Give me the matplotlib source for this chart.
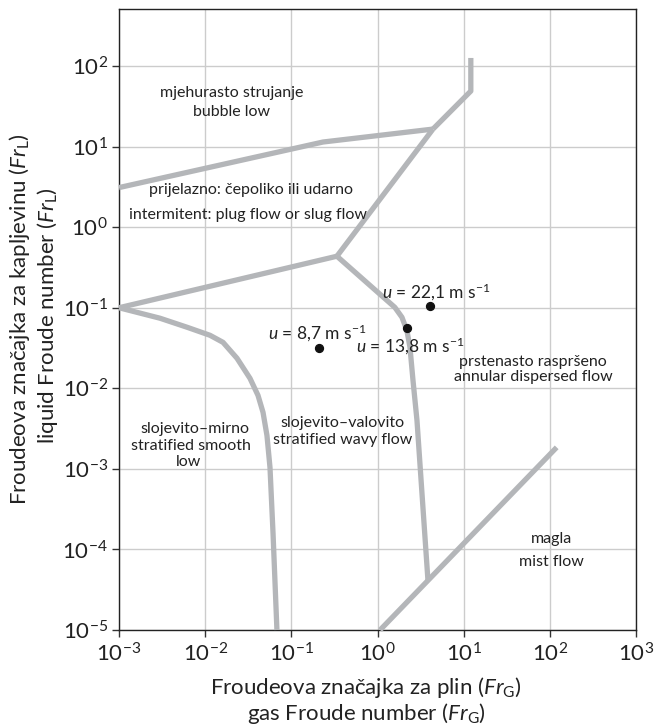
import matplotlib
matplotlib.use("Agg")
import matplotlib.pyplot as plt

plt.rcParams['font.family'] = ['Lato', 'DejaVu Sans']
plt.rcParams['mathtext.fontset'] = 'custom'
plt.rcParams['mathtext.rm'] = 'Lato'
plt.rcParams['mathtext.it'] = 'Lato:italic'
plt.rcParams['mathtext.bf'] = 'Lato:bold'

# Boundary lines (Fr_G, Fr_L)
bubble_x = [0.001, 0.233, 4.4]
bubble_y = [3.1, 11.4, 16.5]
upper_x = [4.4, 12.1, 12.1]
upper_y = [16.5, 48.9, 126]
slug_x = [4.4, 0.338]
slug_y = [16.5, 0.436]
lowslug_x = [0.001, 0.338]
lowslug_y = [0.1, 0.436]
wavy_x = [0.338, 1.59, 1.92, 2.19, 2.38, 2.58, 2.87, 3.85]
wavy_y = [0.436, 0.101, 0.0762, 0.0525, 0.0323, 0.01256, 0.0040, 4.1e-5]
mist_x = [1.07, 120]
mist_y = [1e-5, 1.85e-3]
smooth_x = [0.001, 0.00299, 0.00615, 0.01137, 0.0161, 0.0234, 0.0331, 0.0410,
            0.0469, 0.0521, 0.0565, 0.0613, 0.068]
smooth_y = [0.1, 0.0741, 0.0573, 0.0455, 0.0372, 0.0236, 0.0133, 0.00818,
            0.00503, 0.0026, 0.00104, 1.58e-4, 1e-5]

# Operating points
pt_x = [4.06, 2.19, 0.209]
pt_y = [0.104, 0.0556, 0.0314]

fig = plt.figure(figsize=(6.54, 7.28), dpi=100)
ax = fig.add_axes([0.182, 0.1346, 0.7905, 0.853])
ax.set_xscale('log')
ax.set_yscale('log')
ax.set_xlim(1e-3, 1e3)
ax.set_ylim(1e-5, 510)

ax.grid(True, which='major', color='#cccccc', linewidth=1.0)
ax.minorticks_off()
ax.set_xticks([1e-3, 1e-2, 1e-1, 1e0, 1e1, 1e2, 1e3])
ax.set_yticks([1e-5, 1e-4, 1e-3, 1e-2, 1e-1, 1e0, 1e1, 1e2])
ax.tick_params(axis='both', labelsize=16, direction='out', length=5, width=1,
               color='#333333', labelcolor='#222222')
ax.tick_params(axis='x', pad=4)
ax.tick_params(axis='y', pad=3)
for s in ax.spines.values():
    s.set_linewidth(1.0)
    s.set_color('#222222')

lc = '#b4b6b9'
lw = 3.8
for xs, ys in [(bubble_x, bubble_y), (upper_x, upper_y), (slug_x, slug_y),
               (lowslug_x, lowslug_y), (wavy_x, wavy_y), (mist_x, mist_y),
               (smooth_x, smooth_y)]:
    ax.plot(xs, ys, color=lc, linewidth=lw, solid_joinstyle='round',
            solid_capstyle='butt', clip_on=False, zorder=3)

ax.scatter(pt_x, pt_y, s=32, color='#111111', zorder=5)

tc = '#222222'
fs = 11.5
def T(px, py, s, ha='center', size=fs):
    ax.text(px / 654, 1 - py / 728, s, transform=fig.transFigure, ha=ha, va='center',
            fontsize=size, color=tc)

T(232, 93, 'mjehurasto strujanje')
T(232, 112, 'bubble low')
T(251, 190, 'prijelazno: čepoliko ili udarno')
T(248, 215, 'intermitent: plug flow or slug flow')
T(382, 292, r'$u$ = 22,1 m s$^{-1}$', ha='left', size=12.5)
T(268, 333, r'$u$ = 8,7 m s$^{-1}$', ha='left', size=12.5)
T(356, 346, r'$u$ = 13,8 m s$^{-1}$', ha='left', size=12.5)
T(533, 362, 'prstenasto raspršeno')
T(533, 377, 'annular dispersed flow')
T(195, 429, 'slojevito–mirno')
T(191, 446, 'stratified smooth')
T(189, 462, 'low')
T(342, 423, 'slojevito–valovito')
T(343, 440, 'stratified wavy flow')
T(551, 539, 'magla')
T(551, 562, 'mist flow')

fig.text(366 / 654, 1 - 688 / 728, r'Froudeova značajka za plin ($\mathit{Fr}_\mathrm{G}$)',
         ha='center', va='center', fontsize=16, color=tc)
fig.text(366 / 654, 1 - 714 / 728, r'gas Froude number ($\mathit{Fr}_\mathrm{G}$)',
         ha='center', va='center', fontsize=16, color=tc)
fig.text(20 / 654, 1 - 319 / 728, r'Froudeova značajka za kapljevinu ($\mathit{Fr}_\mathrm{L}$)',
         ha='center', va='center', rotation=90, fontsize=16, color=tc)
fig.text(48 / 654, 1 - 316 / 728, r'liquid Froude number ($\mathit{Fr}_\mathrm{L}$)',
         ha='center', va='center', rotation=90, fontsize=16, color=tc)

fig.savefig('out.png', dpi=100)
